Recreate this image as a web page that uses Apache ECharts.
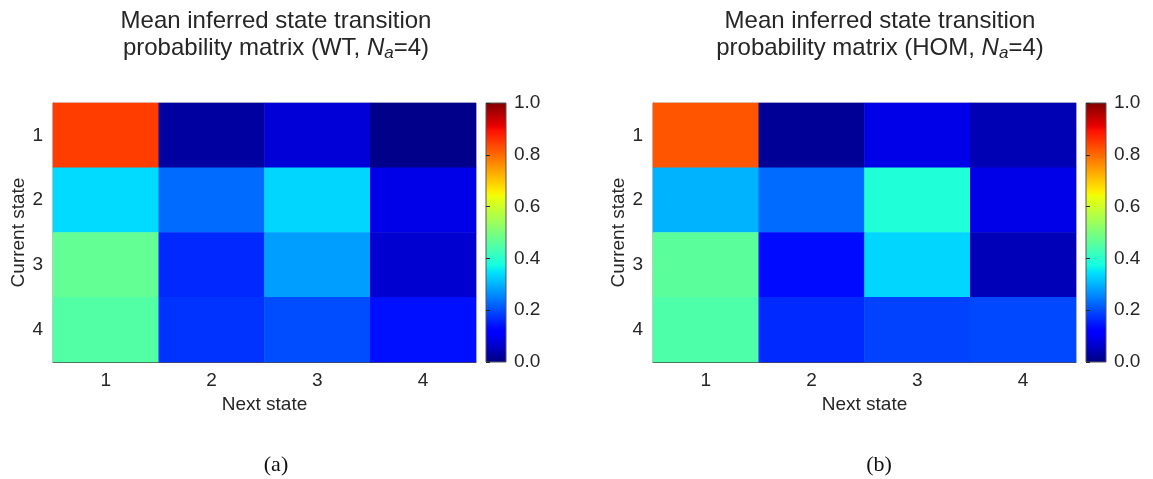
<!DOCTYPE html>
<html>
<head>
<meta charset="utf-8">
<script src="https://cdn.jsdelivr.net/npm/echarts@6/dist/echarts.min.js"></script>
<style>
  html, body { margin: 0; padding: 0; background: #ffffff; }
  #chart { width: 1153px; height: 479px; }
</style>
</head>
<body>
<div id="chart"></div>
<script>
// Axis categories
const nextStates = ['1', '2', '3', '4'];
const currentStates = ['1', '2', '3', '4'];

// Mean inferred transition probabilities, rows = current state, columns = next state
const wtMatrix = [
  [0.846, 0.028, 0.075, 0.010],
  [0.340, 0.230, 0.335, 0.090],
  [0.470, 0.164, 0.280, 0.070],
  [0.450, 0.175, 0.200, 0.140]
];
const homMatrix = [
  [0.820, 0.020, 0.090, 0.045],
  [0.300, 0.230, 0.387, 0.090],
  [0.460, 0.135, 0.335, 0.050],
  [0.445, 0.165, 0.190, 0.195]
];

// Colour scale range and panel captions
const scaleMin = 0;
const scaleMax = 1;
const scaleStep = 0.2;
const panelGroups = ['WT', 'HOM'];
const panelCaptions = ['(a)', '(b)'];

const FONT = '"Liberation Sans", Arial, Helvetica, sans-serif';
const SERIF = '"Liberation Serif", "DejaVu Serif", serif';
const INK = '#262626';

// Piecewise-linear "jet" colormap
function interp(points, t) {
  for (let i = 1; i < points.length; i++) {
    if (t <= points[i][0]) {
      const [x0, y0] = points[i - 1];
      const [x1, y1] = points[i];
      return y0 + (y1 - y0) * (t - x0) / (x1 - x0);
    }
  }
  return points[points.length - 1][1];
}
const R = [[0, 0], [0.35, 0], [0.66, 1], [0.89, 1], [1, 0.5]];
const G = [[0, 0], [0.125, 0], [0.375, 1], [0.64, 1], [0.91, 0], [1, 0]];
const B = [[0, 0.5], [0.11, 1], [0.34, 1], [0.65, 0], [1, 0]];
function jet(t) {
  const c = v => Math.round(Math.max(0, Math.min(1, v)) * 255);
  return 'rgb(' + c(interp(R, t)) + ',' + c(interp(G, t)) + ',' + c(interp(B, t)) + ')';
}
const jetColors = [];
const jetStops = [];
for (let i = 0; i <= 100; i++) {
  const t = i / 100;
  jetColors.push(jet(t));
  jetStops.push({ offset: t, color: jet(t) });
}

function toCells(matrix) {
  const out = [];
  matrix.forEach((row, r) => row.forEach((v, c) => out.push([c, r, v])));
  return out;
}

const chart = echarts.init(document.getElementById('chart'), null, { renderer: 'canvas' });

const plotLefts = [53, 653];
const barLefts = [486, 1086];
const titleCenters = [271, 875];
const captionCenters = [276, 879];
const plotTop = 103, plotHeight = 259, plotWidth = 423, barWidth = 20;
const LABEL_SIZE = 19;

const grids = [], xAxes = [], yAxes = [], series = [], titles = [], graphics = [];

panelGroups.forEach((grp, p) => {
  // heatmap panel
  grids.push({
    left: plotLefts[p], top: plotTop, width: plotWidth, height: plotHeight,
    show: true, borderColor: '#b0b0b0', borderWidth: 1, backgroundColor: 'transparent'
  });
  xAxes.push({
    type: 'category', gridIndex: 2 * p, data: nextStates,
    name: 'Next state', nameLocation: 'middle', nameGap: 31,
    nameTextStyle: { fontFamily: FONT, fontSize: LABEL_SIZE, color: INK },
    axisLine: { show: true, lineStyle: { color: '#4a4a4a', width: 1.2 } },
    axisTick: { show: false },
    axisLabel: { fontFamily: FONT, fontSize: LABEL_SIZE, color: INK, margin: 9 },
    splitLine: { show: false }
  });
  yAxes.push({
    type: 'category', gridIndex: 2 * p, data: currentStates, inverse: true,
    name: 'Current state', nameLocation: 'middle', nameGap: 25, nameRotate: 90,
    nameTextStyle: { fontFamily: FONT, fontSize: LABEL_SIZE, color: INK },
    axisLine: { show: true, lineStyle: { color: '#4a4a4a', width: 1.2 } },
    axisTick: { show: false },
    axisLabel: { fontFamily: FONT, fontSize: LABEL_SIZE, color: INK, margin: 10 },
    splitLine: { show: false }
  });
  series.push({
    type: 'heatmap', xAxisIndex: 2 * p, yAxisIndex: 2 * p,
    data: toCells(p === 0 ? wtMatrix : homMatrix),
    itemStyle: { borderWidth: 0 },
    emphasis: { disabled: true },
    silent: true
  });

  // colour bar
  grids.push({
    left: barLefts[p], top: plotTop, width: barWidth, height: plotHeight,
    show: true, borderColor: '#555555', borderWidth: 1,
    backgroundColor: new echarts.graphic.LinearGradient(0, 1, 0, 0, jetStops)
  });
  xAxes.push({ type: 'value', gridIndex: 2 * p + 1, show: false, min: 0, max: 1 });
  yAxes.push({
    type: 'value', gridIndex: 2 * p + 1, position: 'right',
    min: scaleMin, max: scaleMax, interval: scaleStep,
    axisLine: { show: false },
    axisTick: { show: true, length: 4, lineStyle: { color: INK, width: 1 } },
    axisLabel: { fontFamily: FONT, fontSize: LABEL_SIZE, color: INK, margin: 8,
                 formatter: v => v.toFixed(1) },
    splitLine: { show: false }
  });

  titles.push({
    text: '{n|Mean inferred state transition}\n{n|probability matrix (' + grp + ', }{i|N}{s|a}{n|=4)}',
    left: titleCenters[p], top: 3, textAlign: 'center',
    textStyle: {
      fontWeight: 'normal',
      rich: {
        n: { fontFamily: FONT, fontSize: 24, fontWeight: 'normal', color: INK, lineHeight: 27 },
        i: { fontFamily: FONT, fontSize: 24, fontWeight: 'normal', color: INK, lineHeight: 27, fontStyle: 'italic' },
        s: { fontFamily: FONT, fontSize: 17, fontWeight: 'normal', color: INK, lineHeight: 17, fontStyle: 'italic', verticalAlign: 'bottom' }
      }
    }
  });
  graphics.push({
    type: 'text', x: captionCenters[p], y: 465,
    style: { text: panelCaptions[p], font: '22px ' + SERIF, fill: '#111111',
             align: 'center', verticalAlign: 'middle' }
  });
});

chart.setOption({
  backgroundColor: '#ffffff',
  animation: false,
  title: titles,
  grid: grids,
  xAxis: xAxes,
  yAxis: yAxes,
  visualMap: {
    type: 'continuous', show: false, min: scaleMin, max: scaleMax,
    seriesIndex: [0, 1], inRange: { color: jetColors }
  },
  series: series,
  graphic: graphics
});
</script>
</body>
</html>
